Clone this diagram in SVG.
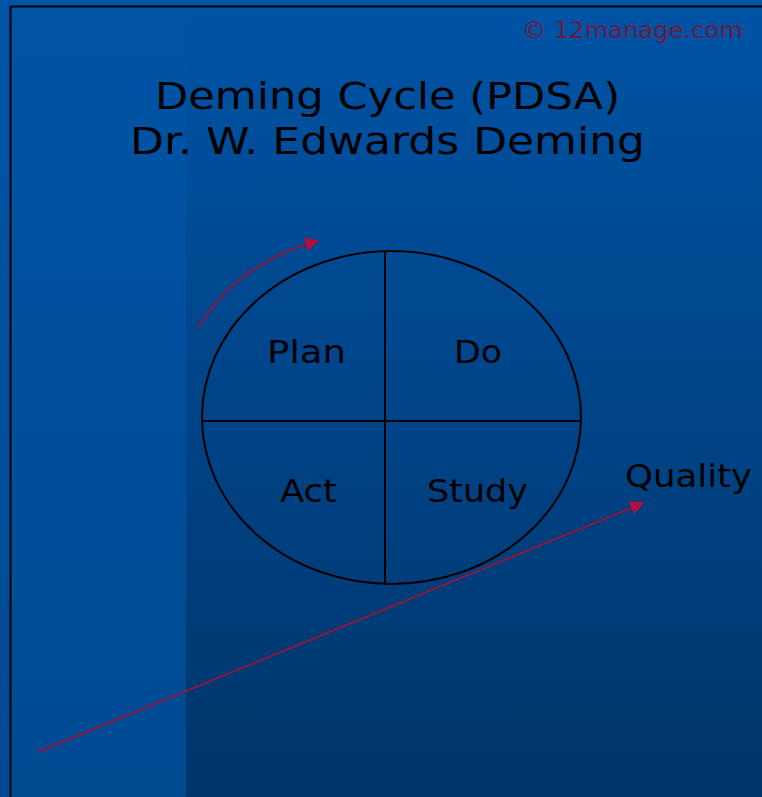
<svg xmlns="http://www.w3.org/2000/svg" width="762" height="797" viewBox="0 0 762 797">
  <defs>
    <linearGradient id="bgMain" x1="0" y1="0" x2="0" y2="1">
      <stop offset="0" stop-color="#0054A6"/>
      <stop offset="0.5" stop-color="#004488"/>
      <stop offset="1" stop-color="#00356A"/>
    </linearGradient>
    <linearGradient id="bgLeft" x1="0" y1="0" x2="0" y2="1">
      <stop offset="0" stop-color="#0054A6"/>
      <stop offset="1" stop-color="#004A92"/>
    </linearGradient>
    <marker id="arrowBig" viewBox="0 0 10 10" refX="9" refY="5" markerWidth="16" markerHeight="14" orient="auto" markerUnits="userSpaceOnUse">
      <path d="M0,0 L10,5 L0,10 z" fill="#B0103C"/>
    </marker>
  </defs>
  <style>
    .lbl { font-family: "DejaVu Sans", Verdana, sans-serif; fill: #000; }
    .title { font-size: 38px; }
    .cell { font-size: 32px; }
    .conn { fill: none; stroke: #8A1840; stroke-width: 2; }
    .outline { fill: none; stroke: #000; stroke-width: 2; }
  </style>
  <rect x="0" y="0" width="762" height="797" fill="url(#bgMain)"/>
  <rect x="0" y="0" width="186" height="797" fill="url(#bgLeft)"/>
  <line x1="10" y1="6.5" x2="762" y2="6.5" stroke="#000" stroke-width="2"/>
  <line x1="10.5" y1="6" x2="10.5" y2="797" stroke="#000" stroke-width="2"/>

  <text x="522" y="38" font-family="DejaVu Sans, sans-serif" font-size="23" fill="#6E1A40" textLength="221" lengthAdjust="spacingAndGlyphs">© 12manage.com</text>

  <g id="title">
    <text class="lbl title" x="155" y="109" textLength="465" lengthAdjust="spacingAndGlyphs">Deming Cycle (PDSA)</text>
    <text class="lbl title" x="130" y="154" textLength="515" lengthAdjust="spacingAndGlyphs">Dr. W. Edwards Deming</text>
  </g>

  <g id="cycle">
    <ellipse class="outline" cx="391.5" cy="417.5" rx="189.5" ry="166.5"/>
    <line class="outline" x1="385" y1="251" x2="385" y2="584"/>
    <line class="outline" x1="202" y1="421" x2="581" y2="421"/>
  </g>
  <g id="plan"><text class="lbl cell" x="267" y="363" textLength="79" lengthAdjust="spacingAndGlyphs">Plan</text></g>
  <g id="do"><text class="lbl cell" x="454" y="363" textLength="48" lengthAdjust="spacingAndGlyphs">Do</text></g>
  <g id="act"><text class="lbl cell" x="280" y="502" textLength="57" lengthAdjust="spacingAndGlyphs">Act</text></g>
  <g id="study"><text class="lbl cell" x="427" y="502" textLength="101" lengthAdjust="spacingAndGlyphs">Study</text></g>
  <g id="quality"><text class="lbl cell" x="625" y="487" textLength="127" lengthAdjust="spacingAndGlyphs">Quality</text></g>

  <g id="connectors">
    <path class="conn" d="M198,328 Q238,262 318,241" marker-end="url(#arrowBig)"/>
    <line class="conn" x1="38" y1="752" x2="643" y2="503" marker-end="url(#arrowBig)"/>
  </g>
</svg>
